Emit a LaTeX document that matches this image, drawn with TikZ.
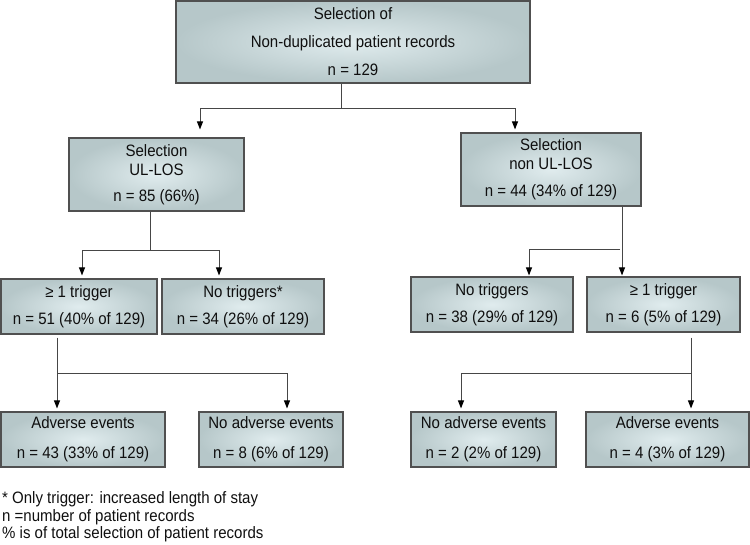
\documentclass[tikz,border=0pt]{standalone}
\usepackage{fontspec}
\setmainfont{Liberation Sans}[FakeStretch=0.91]
\usetikzlibrary{arrows.meta}
\definecolor{boxin}{RGB}{224,236,238}
\definecolor{boxout}{RGB}{182,199,201}
\definecolor{boxline}{RGB}{80,80,80}
\definecolor{conncol}{RGB}{70,70,70}
\definecolor{txt}{RGB}{15,15,15}
\tikzset{
  flowbox/.style={draw=boxline, line width=1.1pt, inner color=boxin, outer color=boxout,
    inner sep=0pt, align=center, text=txt},
  fa/.style={font=\fontsize{16.5}{28}\selectfont},
  fb/.style={font=\fontsize{16.5}{19}\selectfont},
  fc/.style={font=\fontsize{16.5}{27}\selectfont},
  fd/.style={font=\fontsize{16.5}{30}\selectfont},
  conn/.style={draw=conncol, line width=1pt},
  arr/.style={conn, -{Triangle[length=8pt,width=6pt,color=black]}},
  note/.style={font=\fontsize{16.5}{18}\selectfont, text=txt, anchor=base west, inner sep=0pt}
}
\begin{document}
\begin{tikzpicture}[x=1pt,y=-1pt]
\useasboundingbox (0,0) rectangle (750,544);
% boxes
\node[flowbox,fa,minimum width=354pt,minimum height=82pt] (top) at (353,42)
  {Selection of\\Non-duplicated patient records\\n = 129};
\node[flowbox,fb,minimum width=175pt,minimum height=73pt] (ul) at (156.5,174.5)
  {Selection\\UL-LOS\\[7pt]n = 85 (66\%)};
\node[flowbox,fb,minimum width=180pt,minimum height=73pt] (nu) at (551,169.5)
  {Selection\\non UL-LOS\\[8pt]n = 44 (34\% of 129)};
\node[flowbox,fc,minimum width=156pt,minimum height=55pt] (t1) at (79,306.5)
  {≥ 1 trigger\\n = 51 (40\% of 129)};
\node[flowbox,fc,minimum width=162pt,minimum height=55pt] (nt1) at (243,306.5)
  {No triggers*\\n = 34 (26\% of 129)};
\node[flowbox,fc,minimum width=162pt,minimum height=55pt] (nt2) at (492,304.5)
  {No triggers\\n = 38 (29\% of 129)};
\node[flowbox,fc,minimum width=153pt,minimum height=55pt] (t2) at (663.5,304.5)
  {≥ 1 trigger\\n = 6 (5\% of 129)};
\node[flowbox,fd,minimum width=164pt,minimum height=55pt] (ae1) at (83,439.5)
  {Adverse events\\n = 43 (33\% of 129)};
\node[flowbox,fd,minimum width=144pt,minimum height=55pt] (nae1) at (271,439.5)
  {No adverse events\\n = 8 (6\% of 129)};
\node[flowbox,fd,minimum width=145pt,minimum height=55pt] (nae2) at (483.5,439.5)
  {No adverse events\\n = 2 (2\% of 129)};
\node[flowbox,fd,minimum width=163pt,minimum height=55pt] (ae2) at (667.5,439.5)
  {Adverse events\\n = 4 (3\% of 129)};
% junction coordinates
\coordinate (tj) at (341,108);
\coordinate (tL) at (200,108);
\coordinate (tR) at (515,108);
\coordinate (uj) at (150,250);
\coordinate (uL) at (82,250);
\coordinate (uR) at (219,250);
\coordinate (rj) at (622,249);
\coordinate (rjb) at (620,249);
\coordinate (rL) at (529,249);
\coordinate (lj) at (57,373);
\coordinate (lR) at (287,373);
\coordinate (mj) at (691,373);
\coordinate (mL) at (461,373);
% connectors level 1
\draw[conn] (top.south -| tj) -- (tj);
\draw[conn] (tL) -- (tR);
\draw[arr,shorten >=8pt] (tL) -- (tL |- ul.north);
\draw[arr,shorten >=3pt] (tR) -- (tR |- nu.north);
% level 2 left
\draw[conn] (ul.south -| uj) -- (uj);
\draw[conn] (uL) -- (uR);
\draw[arr,shorten >=3pt] (uL) -- (uL |- t1.north);
\draw[arr,shorten >=3pt] (uR) -- (uR |- nt1.north);
% level 2 right
\draw[arr,shorten >=1pt] (nu.south -| rj) -- (rj |- t2.north);
\draw[conn] (rjb) -- (rL);
\draw[arr,shorten >=1pt] (rL) -- (rL |- nt2.north);
% level 3 left
\draw[arr,shorten <=3pt,shorten >=3pt] (t1.south -| lj) -- (lj |- ae1.north);
\draw[conn] (lj) -- (lR);
\draw[arr,shorten >=3pt] (lR) -- (lR |- nae1.north);
% level 3 right
\draw[arr,shorten <=5pt,shorten >=3pt] (t2.south -| mj) -- (mj |- ae2.north);
\draw[conn] (mL) -- (mj);
\draw[arr,shorten >=3pt] (mL) -- (mL |- nae2.north);
% notes
\node[note] (fn1) at (2,503.5) {* Only trigger: increased length of stay};
\node[note] (fn2) at (2,521.5) {n =number of patient records};
\node[note] (fn3) at (2,538.5) {\% is of total selection of patient records};
\end{tikzpicture}
\end{document}
